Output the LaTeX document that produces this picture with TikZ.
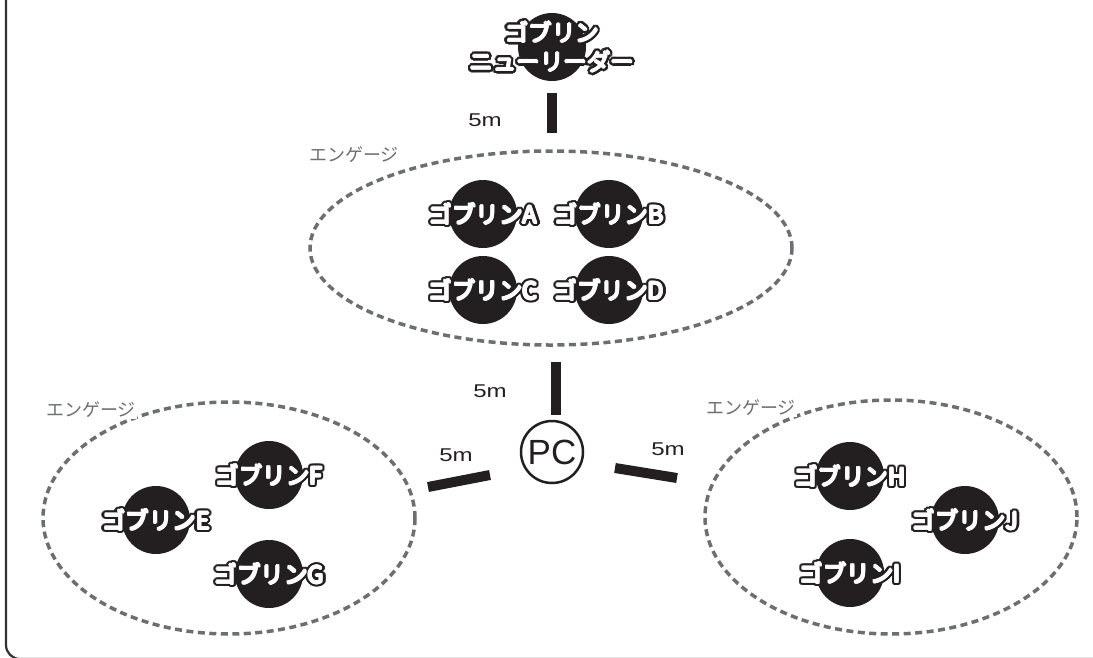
\documentclass[tikz,border=0pt]{standalone}
\usepackage{fontspec}
\setmainfont{Liberation Sans}
\newfontfamily\jp{Noto Sans CJK JP}
\usetikzlibrary{calc,shapes.geometric}

\definecolor{ink}{HTML}{231F20}
\definecolor{paper}{rgb}{1,1,1}
\definecolor{dashgray}{HTML}{6D6E71}
\definecolor{framegray}{HTML}{333333}

\tikzset{
  goblin/.style={circle, fill=ink, minimum size=68pt, inner sep=0pt},
  gname/.style={font=\jp\fontsize{23.5}{29}\selectfont, inner sep=0pt, align=center},
  engage/.style={ellipse, draw=dashgray, line width=3.5pt, dash pattern=on 7pt off 4.5pt, inner sep=0pt},
  engtag/.style={font=\jp\fontsize{18}{20}\selectfont, text=dashgray, fill=paper, inner sep=1pt},
  bar/.style={line width=10pt, ink},
  dist/.style={font=\fontsize{18.5}{20}\selectfont, text=ink, inner sep=0pt, xscale=1.3},
  pcnode/.style={circle, draw=ink, line width=2.5pt, minimum size=62pt, inner sep=0pt,
                 font=\fontsize{35}{37}\selectfont, text=ink},
}

% heavy white lettering with a black rim: a ring of dark copies,
% a few slightly shifted white copies for weight, then the named label
\newcommand\gobname[3]{%
  \foreach \ang in {0,15,...,345}{%
    \node[gname, text=ink] (#1-rim\ang) at ($(#2)+(\ang:3.3)$) {#3};}
  \foreach \ang in {0,45,...,315}{%
    \node[gname, text=paper] (#1-body\ang) at ($(#2)+(\ang:1.0)$) {#3};}
  \node[gname, text=paper] (#1) at (#2) {#3};}

\begin{document}
\begin{tikzpicture}[x=1pt, y=-1pt]
  \useasboundingbox (0,0) rectangle (1093,657);
  \clip (0,0) rectangle (1093,657);

  % outer frame
  \draw[framegray, line width=2.2pt, rounded corners=14pt] (6,-40) rectangle (1300,659);

  % engagement zones
  \node[engage, minimum width=482pt, minimum height=194pt] (zoneT) at (551,248) {};
  \node[engage, minimum width=372pt, minimum height=232pt] (zoneL) at (229,518) {};
  \node[engage, minimum width=372pt, minimum height=234pt] (zoneR) at (891,517) {};
  \node[engtag] (tagT) at (354,155) {エンゲージ};
  \node[engtag] (tagL) at (91,410) {エンゲージ};
  \node[engtag] (tagR) at (751,408) {エンゲージ};

  % goblin leader
  \node[goblin] (leader) at (552,47) {};
  \gobname{leaderL}{leader}{ゴブリン\\ニューリーダー}

  % upper group
  \node[goblin] (ga) at (483,214) {};
  \node[goblin] (gb) at (609,214) {};
  \node[goblin] (gc) at (483,290) {};
  \node[goblin] (gd) at (609,290) {};
  \gobname{gaL}{ga}{ゴブリンA}
  \gobname{gbL}{gb}{ゴブリンB}
  \gobname{gcL}{gc}{ゴブリンC}
  \gobname{gdL}{gd}{ゴブリンD}

  % left group
  \node[goblin] (ge) at (156,520) {};
  \node[goblin] (gf) at (269,475) {};
  \node[goblin] (gg) at (269,574) {};
  \gobname{geL}{ge}{ゴブリンE}
  \gobname{gfL}{gf}{ゴブリンF}
  \gobname{ggL}{gg}{ゴブリンG}

  % right group
  \node[goblin] (gh) at (850,476) {};
  \node[goblin] (gj) at (965,520) {};
  \node[goblin] (gi) at (850,573) {};
  \gobname{ghL}{gh}{ゴブリンH}
  \gobname{gjL}{gj}{ゴブリンJ}
  \gobname{giL}{gi}{ゴブリンI}

  % player character
  \node[pcnode] (pc) at (552,452) {PC};

  % 5m spacers
  \draw[bar, shorten <=12pt, shorten >=16pt] (leader.south) -- (leader.south |- zoneT.north);
  \coordinate (midTop) at (556,362);
  \coordinate (midBot) at (556,415);
  \draw[bar] (midTop) -- (midBot);
  \coordinate (leftIn) at (490,475);
  \coordinate (leftOut) at (428,487);
  \draw[bar] (leftIn) -- (leftOut);
  \coordinate (rightIn) at (615,468);
  \coordinate (rightOut) at (677,478);
  \draw[bar] (rightIn) -- (rightOut);

  \node[dist] (dTop) at (485,120) {5m};
  \node[dist] (dMid) at (490,391) {5m};
  \node[dist] (dLeft) at (456,455) {5m};
  \node[dist] (dRight) at (668,449) {5m};
\end{tikzpicture}
\end{document}
